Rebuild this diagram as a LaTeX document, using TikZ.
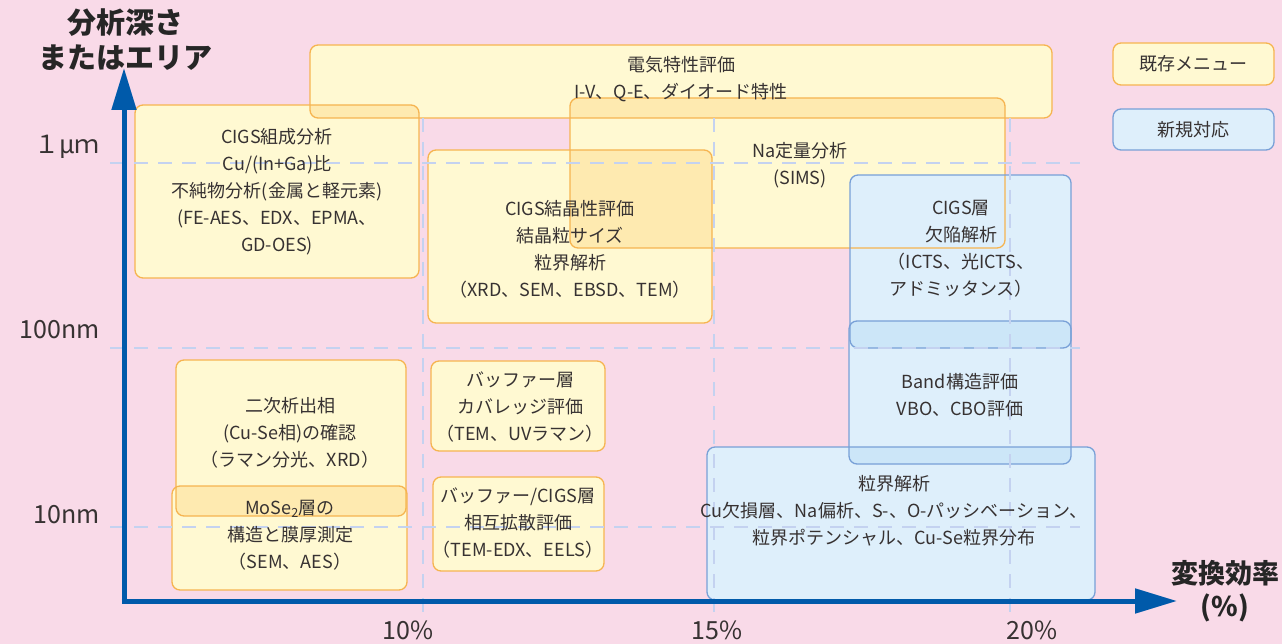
\documentclass[tikz,border=0pt]{standalone}
\usepackage{fontspec}
\setmainfont{Noto Sans CJK JP}
\usetikzlibrary{arrows.meta}
\definecolor{bgpink}{RGB}{249,218,232}
\definecolor{yfill}{RGB}{255,249,210}
\definecolor{yover}{RGB}{254,234,176}
\definecolor{yborder}{RGB}{246,180,80}
\definecolor{bfill}{RGB}{222,239,251}
\definecolor{bover}{RGB}{204,230,248}
\definecolor{bborder}{RGB}{120,160,215}
\definecolor{axisblue}{RGB}{0,90,170}
\definecolor{gridc}{RGB}{196,210,240}
\definecolor{txtc}{RGB}{55,50,50}
\tikzset{
  yb/.style={fill=yfill},
  bb/.style={fill=bfill},
  ybd/.style={draw=yborder, line width=1.3pt},
  bbd/.style={draw=bborder, line width=1.3pt},
  yo/.style={fill=yover},
  bo/.style={fill=bover},
  gridline/.style={draw=gridc, line width=2pt, dash pattern=on 14pt off 10pt},
  axisline/.style={draw=axisblue, line width=5pt, -{Triangle[length=42pt,width=24pt]}},
  txt/.style={align=center, font=\fontsize{18}{27}\selectfont, text=txtc, inner sep=0pt},
  tick/.style={font=\fontsize{25}{28}\selectfont, text=txtc, inner sep=0pt},
  axlab/.style={align=center, font=\bfseries\fontsize{29}{35}\selectfont, text=black!85, inner sep=0pt},
}
\begin{document}
\begin{tikzpicture}[x=1pt,y=-1pt, rounded corners=8pt]
\useasboundingbox (0,0) rectangle (1282,644);
\fill[bgpink, sharp corners] (0,0) rectangle (1282,644);
% fills
\path[yb] (310,45) rectangle (1052,118);
\path[yb] (135,105) rectangle (419,278);
\path[yb] (570,98) rectangle (1005,248);
\path[yb] (428,150) rectangle (712,323);
\path[yb] (176,360) rectangle (406,516);
\path[yb] (172,486) rectangle (407,590);
\path[yb] (431,361) rectangle (605,451);
\path[yb] (433,477) rectangle (604,571);
\path[bb] (707,447) rectangle (1095,600);
\path[bb] (850,175) rectangle (1071,348);
\path[bb] (849,321) rectangle (1071,464);
% overlaps
\begin{scope}\clip (310,45) rectangle (1052,118); \path[yo] (135,105) rectangle (419,278); \end{scope}
\begin{scope}\clip (310,45) rectangle (1052,118); \path[yo] (570,98) rectangle (1005,248); \end{scope}
\begin{scope}\clip (570,98) rectangle (1005,248); \path[yo] (428,150) rectangle (712,323); \end{scope}
\begin{scope}\clip (176,360) rectangle (406,516); \path[yo] (172,486) rectangle (407,590); \end{scope}
\begin{scope}\clip (850,175) rectangle (1071,348); \path[bo] (849,321) rectangle (1071,464); \end{scope}
\begin{scope}\clip (707,447) rectangle (1095,600); \path[bo] (849,321) rectangle (1071,464); \end{scope}
% borders
\path[ybd] (310,45) rectangle (1052,118);
\path[ybd] (135,105) rectangle (419,278);
\path[ybd] (570,98) rectangle (1005,248);
\path[ybd] (428,150) rectangle (712,323);
\path[ybd] (176,360) rectangle (406,516);
\path[ybd] (172,486) rectangle (407,590);
\path[ybd] (431,361) rectangle (605,451);
\path[ybd] (433,477) rectangle (604,571);
\path[bbd] (707,447) rectangle (1095,600);
\path[bbd] (850,175) rectangle (1071,348);
\path[bbd] (849,321) rectangle (1071,464);
% legend
\path[yb, ybd] (1113,43) rectangle (1274,85);
\path[bb, bbd] (1113,109) rectangle (1274,150);
% grid
\begin{scope}[sharp corners]
\path[gridline] (110,163) -- (1080,163);
\path[gridline] (110,348) -- (1080,348);
\path[gridline] (110,527) -- (1080,527);
\path[gridline] (423,118) -- (423,612);
\path[gridline] (714,118) -- (714,612);
\path[gridline] (1010,118) -- (1010,612);
% axes
\coordinate (o) at (124,601);
\coordinate (ytip) at (124,68);
\coordinate (xtip) at (1177,601);
\path[axisline] (124,603.5) -- (ytip);
\path[axisline] (121.5,601) -- (xtip);
\end{scope}
% axis labels
\node[axlab] (ylab) at (125,40) {分析深さ\\またはエリア};
\node[axlab, font=\bfseries\fontsize{27}{33}\selectfont] (xlab) at (1225,591) {変換効率\\(\%)};
\node[tick, anchor=east] (t1) at (100,147) {１μｍ};
\node[tick, anchor=east] (t2) at (100,330) {100nm};
\node[tick, anchor=east] (t3) at (100,515) {10nm};
\node[tick] (p1) at (408,630) {10\%};
\node[tick] (p2) at (717,630) {15\%};
\node[tick] (p3) at (1032,630) {20\%};
% texts
\node[txt] (elec) at (681,79.5) {電気特性評価\\I-V、Q-E、ダイオード特性};
\node[txt] (comp) at (277,192) {CIGS組成分析\\Cu/(In+Ga)比\\不純物分析(金属と軽元素)\\(FE-AES、EDX、EPMA、\\GD-OES)};
\node[txt] (na) at (800,165.5) {Na定量分析\\(SIMS)};
\node[txt] (cryst) at (570,249) {CIGS結晶性評価\\結晶粒サイズ\\粒界解析\\（XRD、SEM、EBSD、TEM）};
\node[txt] (defect) at (961,249) {CIGS層\\欠陥解析\\（ICTS、光ICTS、\\アドミッタンス）};
\node[txt] (band) at (960,395) {Band構造評価\\VBO、CBO評価};
\node[txt] (gb) at (894,510.5) {粒界解析\\Cu欠損層、Na偏析、S-、O-パッシベーション、\\粒界ポテンシャル、Cu-Se粒界分布};
\node[txt] (second) at (290,433) {二次析出相\\(Cu-Se相)の確認\\（ラマン分光、XRD）};
\node[txt] (mose) at (290,535) {MoSe\textsubscript{2}層の\\構造と膜厚測定\\（SEM、AES）};
\node[txt] (buf) at (520,406.5) {バッファー層\\カバレッジ評価\\（TEM、UVラマン）};
\node[txt] (bufc) at (518,522.5) {バッファー/CIGS層\\相互拡散評価\\（TEM-EDX、EELS）};
\node[txt] (leg1) at (1193,64) {既存メニュー};
\node[txt] (leg2) at (1193,130) {新規対応};
\end{tikzpicture}
\end{document}
